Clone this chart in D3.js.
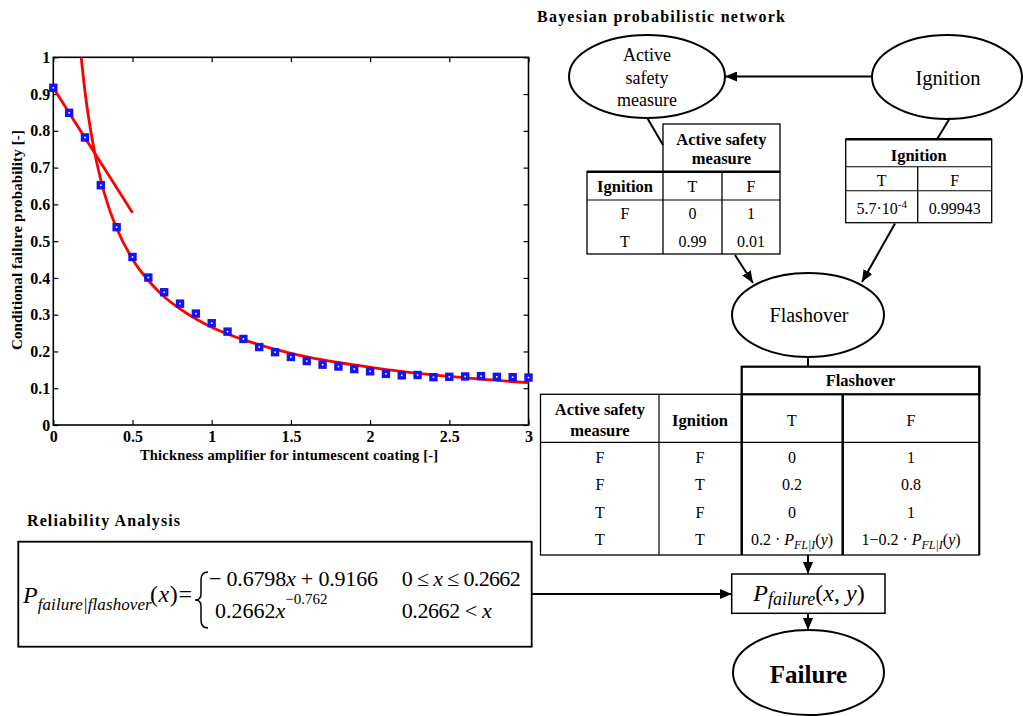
<!DOCTYPE html>
<html>
<head>
<meta charset="utf-8">
<script src="https://cdn.jsdelivr.net/npm/d3@7"></script>
<style>
  body { margin: 0; background: #fff; }
  svg { display: block; }
  text { font-family: "Liberation Serif", "Times New Roman", serif; }
</style>
</head>
<body>
<script>
// ---- plot data ----
const thickness = [0, 0.1, 0.2, 0.3, 0.4, 0.5, 0.6, 0.7, 0.8, 0.9, 1.0, 1.1, 1.2, 1.3, 1.4, 1.5,
  1.6, 1.7, 1.8, 1.9, 2.0, 2.1, 2.2, 2.3, 2.4, 2.5, 2.6, 2.7, 2.8, 2.9, 3.0];
const failureProb = [0.917, 0.849, 0.782, 0.652, 0.538, 0.457, 0.401, 0.361, 0.330, 0.303, 0.277,
  0.254, 0.234, 0.212, 0.198, 0.185, 0.174, 0.164, 0.159, 0.152, 0.146, 0.139, 0.135, 0.136,
  0.130, 0.131, 0.132, 0.133, 0.131, 0.130, 0.129];
const linearFitX = [0, 0.5];
const linearFitY = [0.917, 0.577];
const powerFitX = [0.176, 0.2, 0.25, 0.3, 0.35, 0.4, 0.5, 0.6, 0.7, 0.8, 1.0, 1.2, 1.5, 2.0, 2.5, 3.0];
const powerFitY = [1.0, 0.907, 0.766, 0.666, 0.592, 0.535, 0.451, 0.393, 0.349, 0.316, 0.266,
  0.232, 0.195, 0.157, 0.132, 0.115];
const xTicks = [0, 0.5, 1, 1.5, 2, 2.5, 3];
const yTicks = [0, 0.1, 0.2, 0.3, 0.4, 0.5, 0.6, 0.7, 0.8, 0.9, 1];

// ---- network tables ----
const activeHeader = ["Ignition", "T", "F"];
const activeRows = [["F", "0", "1"], ["T", "0.99", "0.01"]];
const ignitionStates = ["T", "F"];
const ignitionProbs = ["5.7·10", "0.99943"];
const flashHeader = ["Ignition", "T", "F"];
const flashRows = [["F", "F", "0", "1"], ["F", "T", "0.2", "0.8"], ["T", "F", "0", "1"], ["T", "T", "*", "1−*"]];

const svg = d3.select("body").append("svg").attr("width", 1023).attr("height", 716);

const defs = svg.append("defs");
defs.append("marker").attr("id", "arr")
  .attr("viewBox", "0 0 12 10").attr("refX", 12).attr("refY", 5)
  .attr("markerWidth", 12).attr("markerHeight", 10)
  .attr("markerUnits", "userSpaceOnUse").attr("orient", "auto")
  .append("path").attr("d", "M0,0L12,5L0,10Z").attr("fill", "#000");
defs.append("clipPath").attr("id", "plotclip")
  .append("rect").attr("x", 53).attr("y", 57).attr("width", 476).attr("height", 368);

// ================= plot =================
const x = d3.scaleLinear().domain([0, 3]).range([53.3, 528.5]);
const y = d3.scaleLinear().domain([0, 1]).range([425, 57.3]);

const fmtY = d => (d === 0 || d === 1) ? String(d) : d.toFixed(1);

const gx = svg.append("g").attr("transform", "translate(0,425)")
  .call(d3.axisBottom(x).tickValues(xTicks).tickSizeInner(-5).tickSizeOuter(0).tickPadding(6).tickFormat(d3.format("")));
const gy = svg.append("g").attr("transform", "translate(53.3,0)")
  .call(d3.axisLeft(y).tickValues(yTicks).tickSizeInner(-5).tickSizeOuter(0).tickPadding(3).tickFormat(fmtY));
const gt = svg.append("g").attr("transform", "translate(0,57.3)")
  .call(d3.axisTop(x).tickValues(xTicks).tickSizeInner(-5).tickSizeOuter(0).tickFormat(""));
const gr = svg.append("g").attr("transform", "translate(528.5,0)")
  .call(d3.axisRight(y).tickValues(yTicks).tickSizeInner(-5).tickSizeOuter(0).tickFormat(""));

[gx, gy, gt, gr].forEach(g => {
  g.select(".domain").remove();
  g.selectAll("line").attr("stroke", "#000").attr("stroke-width", 1.2);
  g.selectAll("text").attr("font-size", 16).attr("font-weight", "bold").attr("fill", "#000");
});

svg.append("rect").attr("x", x(0)).attr("y", y(1)).attr("width", x(3) - x(0)).attr("height", y(0) - y(1))
  .attr("fill", "none").attr("stroke", "#000").attr("stroke-width", 1.6);

const lineGen = d3.line().x(d => x(d[0])).y(d => y(d[1])).curve(d3.curveMonotoneX);
const plotArea = svg.append("g").attr("clip-path", "url(#plotclip)");

plotArea.append("path").datum(linearFitX.map((v, i) => [v, linearFitY[i]]))
  .attr("d", lineGen).attr("fill", "none").attr("stroke", "#ff0000").attr("stroke-width", 2.8);
plotArea.append("path").datum(powerFitX.map((v, i) => [v, powerFitY[i]]))
  .attr("d", lineGen).attr("fill", "none").attr("stroke", "#ff0000").attr("stroke-width", 2.8);

svg.append("g").selectAll("rect").data(thickness.map((v, i) => [v, failureProb[i]]))
  .enter().append("rect")
  .attr("x", d => x(d[0]) - 2.5).attr("y", d => y(d[1]) - 2.5)
  .attr("width", 5).attr("height", 5)
  .attr("fill", "#fff").attr("stroke", "#1414f0").attr("stroke-width", 3.4);

svg.append("text").attr("x", 289).attr("y", 460).attr("text-anchor", "middle")
  .attr("font-size", 14.5).attr("font-weight", "bold").attr("textLength", 298)
  .text("Thickness amplifier for intumescent coating [-]");
svg.append("text").attr("transform", "translate(22,240) rotate(-90)").attr("text-anchor", "middle")
  .attr("font-size", 15).attr("font-weight", "bold").attr("textLength", 220)
  .text("Conditional failure probability [-]");

// ================= helpers =================
function txt(px, py, s, size, opts = {}) {
  return svg.append("text").attr("x", px).attr("y", py).attr("font-size", size)
    .attr("text-anchor", opts.anchor || "middle")
    .attr("font-weight", opts.bold ? "bold" : "normal")
    .attr("font-style", opts.italic ? "italic" : "normal")
    .text(s);
}
function ln(x1, y1, x2, y2, w = 2, arrow = false) {
  const l = svg.append("line").attr("x1", x1).attr("y1", y1).attr("x2", x2).attr("y2", y2)
    .attr("stroke", "#000").attr("stroke-width", w);
  if (arrow) l.attr("marker-end", "url(#arr)");
  return l;
}
function ell(cx, cy, rx, ry) {
  svg.append("ellipse").attr("cx", cx).attr("cy", cy).attr("rx", rx).attr("ry", ry)
    .attr("fill", "none").attr("stroke", "#000").attr("stroke-width", 2);
}
function box(x0, y0, x1, y1, w = 1.3) {
  svg.append("rect").attr("x", x0).attr("y", y0).attr("width", x1 - x0).attr("height", y1 - y0)
    .attr("fill", "none").attr("stroke", "#000").attr("stroke-width", w);
}
// P with subscript and an argument list, e.g. P_FL|I(y)
function pSub(t, sub, args, subSize) {
  t.append("tspan").attr("font-style", "italic").text("P");
  t.append("tspan").attr("font-style", "italic").attr("font-size", subSize).attr("dy", 4).text(sub);
  t.append("tspan").attr("dy", -4).text("(");
  args.forEach((a, i) => {
    if (i > 0) t.append("tspan").text(", ");
    t.append("tspan").attr("font-style", "italic").text(a);
  });
  t.append("tspan").text(")");
}

// ================= network =================
txt(537, 22, "Bayesian probabilistic network", 16, { anchor: "start", bold: true }).attr("textLength", 248);

// nodes
ell(647, 76.5, 78, 41.5);
txt(647, 61, "Active", 18);
txt(647, 84, "safety", 18);
txt(647, 106, "measure", 18);

ell(947, 77, 75, 42);
txt(948, 85, "Ignition", 20.5);

ell(808, 315, 76, 42);
txt(809, 322, "Flashover", 20);

ell(808.5, 672.5, 75.5, 42.5);
txt(808.5, 683, "Failure", 25, { bold: true });

ln(872, 76.5, 725, 76.5, 2, true);

// Active safety measure table
ln(647, 117.5, 663, 145, 2);
box(663, 124, 780, 171.7, 1.3);
txt(721.5, 145, "Active safety", 16.5, { bold: true });
txt(721.5, 164, "measure", 16.5, { bold: true });
box(587, 171.7, 780, 254, 1.3);
ln(587, 171.7, 780, 171.7, 2.6);
ln(587, 200, 780, 200, 1.1);
ln(663, 171.7, 663, 254, 1.3);
ln(722, 171.7, 722, 254, 1.3);
const aCols = [625, 692.5, 751];
activeHeader.forEach((h, i) => txt(aCols[i], 192, h, i === 0 ? 16.5 : 16, { bold: i === 0 }));
activeRows.forEach((r, j) => r.forEach((v, i) => txt(aCols[i], 218.5 + j * 28.5, v, 16)));

// Ignition prior table
ln(950, 118, 937, 139.3, 2);
box(845.7, 139.3, 991.7, 222.7, 1.3);
ln(845.7, 139.3, 991.7, 139.3, 2.4);
ln(845.7, 166.7, 991.7, 166.7, 1.1);
ln(845.7, 190.7, 991.7, 190.7, 1.1);
ln(917.7, 166.7, 917.7, 222.7, 1.3);
txt(918.7, 160.5, "Ignition", 16.5, { bold: true });
const iCols = [881.7, 954.7];
ignitionStates.forEach((s, i) => txt(iCols[i], 186, s, 16));
{
  const t = txt(iCols[0], 213.5, ignitionProbs[0], 16);
  t.append("tspan").attr("font-size", 11).attr("dy", -6).text("-4");
}
txt(iCols[1], 213.5, ignitionProbs[1], 16);

// arrows into Flashover
ln(735, 255, 753, 283, 2, true);
ln(895, 223.5, 862, 282, 2, true);

// Flashover CPT
ln(808, 357, 808, 366.7, 2);
box(741.7, 366.7, 979.3, 394.3, 2.2);
txt(860.5, 386, "Flashover", 16.5, { bold: true });
box(540.5, 394.3, 979.3, 555, 1.3);
ln(540.5, 442.3, 979.3, 442.3, 1.2);
ln(659, 394.3, 659, 555, 1.2);
ln(741.7, 394.3, 741.7, 555, 2.5);
ln(842.7, 394.3, 842.7, 555, 2.5);
ln(979.3, 366.7, 979.3, 555, 2);
const fCols = [600, 700, 792, 911];
txt(fCols[0], 415, "Active safety", 16.5, { bold: true });
txt(fCols[0], 436, "measure", 16.5, { bold: true });
flashHeader.forEach((h, i) => txt(fCols[i + 1], 425.5, h, i === 0 ? 16.5 : 16, { bold: i === 0 }));
flashRows.forEach((r, j) => {
  const yy = 463 + j * 27.4;
  r.forEach((v, i) => {
    if (v.includes("*")) {
      const pre = v.replace("*", "");
      const t = txt(fCols[i], yy, "", 16);
      t.append("tspan").text(pre + "0.2 · ");
      pSub(t, "FL|I", ["y"], 12);
    } else {
      txt(fCols[i], yy, v, 16);
    }
  });
});

// P_failure(x,y)
ln(808, 555, 808, 574, 2, true);
box(731.7, 574, 885, 613.3, 1.5);
{
  const t = txt(809, 601, "", 24);
  pSub(t, "failure", ["x", "y"], 18);
}
ln(808, 613.3, 808, 630, 2, true);

// ================= reliability analysis =================
txt(27, 526, "Reliability Analysis", 16, { anchor: "start", bold: true }).attr("textLength", 153);
box(18.3, 541.7, 531.7, 646.7, 1.8);
ln(531.7, 594, 731.7, 594, 2, true);

{
  const t = txt(23, 603, "", 24, { anchor: "start" });
  t.append("tspan").attr("font-style", "italic").text("P");
  t.append("tspan").attr("font-style", "italic").attr("font-size", 17).attr("dy", 7)
    .attr("textLength", 114).text("failure|flashover");
}
{
  const t = txt(150, 602, "", 24, { anchor: "start" }).attr("textLength", 42);
  t.append("tspan").text("(");
  t.append("tspan").attr("font-style", "italic").text("x");
  t.append("tspan").text(")=");
}
svg.append("path")
  .attr("d", "M208,572 Q201,572 201,580 L201,594 Q201,600 195,600 Q201,600 201,606 L201,620 Q201,628 208,628")
  .attr("fill", "none").attr("stroke", "#000").attr("stroke-width", 1.5);
{
  const t = txt(209, 586, "", 22, { anchor: "start" }).attr("textLength", 169);
  t.append("tspan").text("− 0.6798");
  t.append("tspan").attr("font-style", "italic").text("x");
  t.append("tspan").text(" + 0.9166");
}
{
  const t = txt(215, 618, "", 22, { anchor: "start" });
  t.append("tspan").text("0.2662");
  t.append("tspan").attr("font-style", "italic").text("x");
  t.append("tspan").attr("font-size", 15).attr("dy", -14).text("−0.762");
}
{
  const t = txt(401.7, 586, "", 22, { anchor: "start" }).attr("textLength", 119);
  t.append("tspan").text("0 ≤ ");
  t.append("tspan").attr("font-style", "italic").text("x");
  t.append("tspan").text(" ≤ 0.2662");
}
{
  const t = txt(401.7, 618, "", 22, { anchor: "start" }).attr("textLength", 90);
  t.append("tspan").text("0.2662 < ");
  t.append("tspan").attr("font-style", "italic").text("x");
}
</script>
</body>
</html>
